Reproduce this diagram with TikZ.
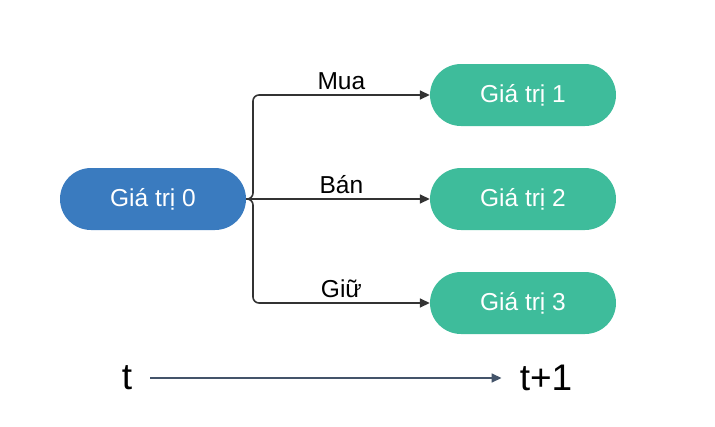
\documentclass[tikz,border=0pt]{standalone}
\usepackage{fontspec}
\setmainfont{Liberation Sans}
\usepackage{tikz}
\usetikzlibrary{arrows.meta,positioning}
\definecolor{azul}{RGB}{58,123,191}
\definecolor{verde}{RGB}{62,188,155}
\definecolor{ardosia}{RGB}{68,84,106}
\definecolor{cinza}{RGB}{51,51,51}
\tikzset{%
  estado/.style={fill=#1,draw=none,text=white,rounded corners=31pt,minimum width=186pt,minimum height=62pt,inner sep=0pt,font=\fontsize{24.5}{27}\selectfont},
  conecta/.style={draw=cinza,line width=1.6pt,rounded corners=6pt,arrows=-{Triangle[width=9pt,length=10pt]}},
  tempo/.style={draw=ardosia,line width=1.5pt,arrows=-{Triangle[width=9pt,length=10pt]}},
  acao/.style={font=\fontsize{24.5}{27}\selectfont,text=black,inner sep=4pt},
  instante/.style={font=\fontsize{37}{40}\selectfont,text=black,inner sep=0pt}
}
\begin{document}
\begin{tikzpicture}[x=1pt,y=-1pt]
  \useasboundingbox (0,0) rectangle (715,426);
  \node[estado=azul] (v0) at (153,199) {Giá trị 0};
  \node[estado=verde] (v1) at (523,95) {Giá trị 1};
  \node[estado=verde] (v2) at (523,199) {Giá trị 2};
  \node[estado=verde] (v3) at (523,303) {Giá trị 3};
  \coordinate (split) at (253,199);
  \draw[conecta] (v0.east) -- (split) |- node[pos=0.75,above,acao] {Mua} (v1.west);
  \draw[conecta] (v0.east) -- (split) -- node[midway,above,acao] {Bán} (v2.west);
  \draw[conecta] (v0.east) -- (split) |- node[pos=0.75,above,acao] {Giữ} (v3.west);
  \node[instante] (t0) at (127,378) {t};
  \node[instante] (t1) at (546,378) {t+1};
  \draw[tempo] ([xshift=18pt]t0.east) -- ([xshift=-18pt]t1.west);
\end{tikzpicture}
\end{document}
